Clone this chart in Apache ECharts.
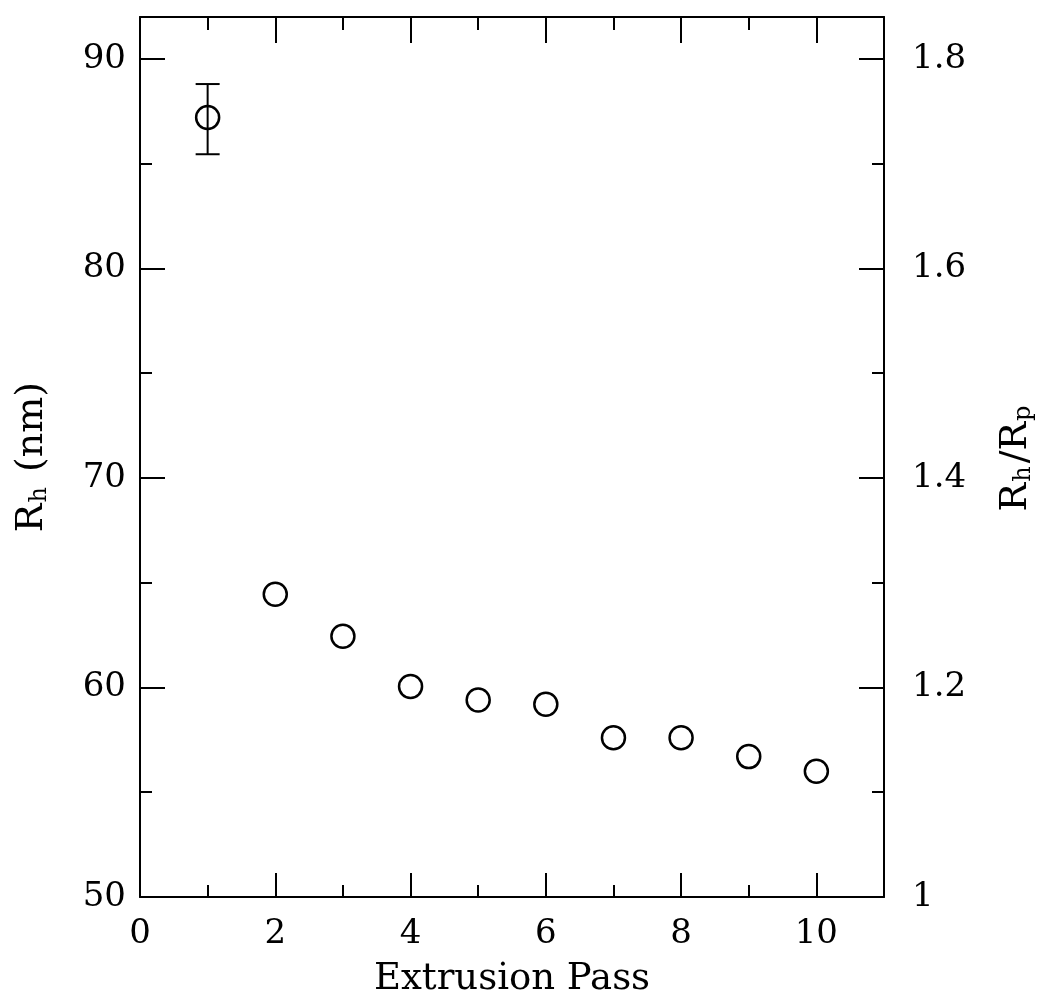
<!DOCTYPE html>
<html>
<head>
<meta charset="utf-8">
<script src="https://cdn.jsdelivr.net/npm/echarts@6/dist/echarts.min.js"></script>
<style>
html,body{margin:0;padding:0;background:#fff;}
#chart{width:1047px;height:1001px;}
</style>
</head>
<body>
<div id="chart"></div>
<script>
// Data
const passes = [1, 2, 3, 4, 5, 6, 7, 8, 9, 10];
const rhValues = [87.2, 64.45, 62.45, 60.05, 59.4, 59.2, 57.6, 57.6, 56.7, 56.0];
const errPass = [1];
const errLow = [85.45];
const errHigh = [88.8];
const xTickLabels = ['0', '2', '4', '6', '8', '10'];
const leftTickLabels = ['50', '60', '70', '80', '90'];
const rightTickLabels = ['1', '1.2', '1.4', '1.6', '1.8'];

const FONT = 'DejaVu Serif';
const chart = echarts.init(document.getElementById('chart'));

const BLACK = '#000';
function tick(len) { return { show: true, inside: true, length: len, lineStyle: { color: BLACK, width: 2 } }; }
function minor(len) { return { show: true, splitNumber: 2, length: len, lineStyle: { color: BLACK, width: 2 } }; }
const lineSt = { show: true, onZero: false, lineStyle: { color: BLACK, width: 2 } };
const subStyle = { fontFamily: FONT, fontSize: 24, color: BLACK, verticalAlign: 'bottom', padding: [16, 3, 0, 1] };

const option = {
  backgroundColor: '#fff',
  animation: false,
  grid: { left: 140, right: 163, top: 17, bottom: 104, containLabel: false, outerBoundsMode: 'none' },
  xAxis: [
    {
      type: 'value', position: 'bottom', min: 0, max: 11, interval: 2,
      axisLine: lineSt, axisTick: tick(24), minorTick: minor(12),
      axisLabel: {
        margin: 20, color: BLACK, fontFamily: FONT, fontSize: 34,
        formatter: v => xTickLabels.includes(String(v)) ? String(v) : ''
      },
      splitLine: { show: false },
      name: 'Extrusion Pass', nameLocation: 'middle', nameGap: 64,
      nameTextStyle: { color: BLACK, fontFamily: FONT, fontSize: 37 }
    },
    {
      type: 'value', position: 'top', min: 0, max: 11, interval: 2,
      axisLine: lineSt, axisTick: tick(26), minorTick: minor(13),
      axisLabel: { show: false }, splitLine: { show: false }
    }
  ],
  yAxis: [
    {
      type: 'value', position: 'left', min: 50, max: 92, interval: 10,
      axisLine: lineSt, axisTick: tick(25), minorTick: minor(12),
      axisLabel: {
        margin: 14, color: BLACK, fontFamily: FONT, fontSize: 34,
        formatter: v => leftTickLabels.includes(String(v)) ? String(v) : ''
      },
      splitLine: { show: false },
      name: 'R{sub|h} (nm)', nameLocation: 'middle', nameGap: 88, nameRotate: 90,
      nameTextStyle: { color: BLACK, fontFamily: FONT, fontSize: 38, rich: { sub: subStyle } }
    },
    {
      type: 'value', position: 'right', min: 1, max: 1.84, interval: 0.2,
      axisLine: lineSt, axisTick: tick(25), minorTick: minor(12),
      axisLabel: {
        margin: 28, color: BLACK, fontFamily: FONT, fontSize: 34,
        formatter: v => {
          const s = String(Math.round(v * 10) / 10);
          return rightTickLabels.includes(s) && Math.abs(v * 5 - Math.round(v * 5)) < 1e-6 ? s : '';
        }
      },
      splitLine: { show: false },
      name: 'R{sub|h}/R{sub|p}', nameLocation: 'middle', nameGap: 112, nameRotate: 90,
      nameTextStyle: { color: BLACK, fontFamily: FONT, fontSize: 38, rich: { sub: subStyle } }
    }
  ],
  series: [
    {
      type: 'custom',
      xAxisIndex: 0, yAxisIndex: 0,
      data: errPass.map((p, i) => [p, errLow[i], errHigh[i]]),
      renderItem: function (params, api) {
        const lo = api.coord([api.value(0), api.value(1)]);
        const hi = api.coord([api.value(0), api.value(2)]);
        const hw = 12;
        const st = { stroke: BLACK, lineWidth: 2, fill: null };
        return {
          type: 'group',
          children: [
            { type: 'line', shape: { x1: lo[0], y1: lo[1], x2: hi[0], y2: hi[1] }, style: st },
            { type: 'line', shape: { x1: lo[0] - hw, y1: lo[1], x2: lo[0] + hw, y2: lo[1] }, style: st },
            { type: 'line', shape: { x1: hi[0] - hw, y1: hi[1], x2: hi[0] + hw, y2: hi[1] }, style: st }
          ]
        };
      },
      z: 2
    },
    {
      type: 'scatter',
      xAxisIndex: 0, yAxisIndex: 0,
      data: passes.map((p, i) => [p, rhValues[i]]),
      symbol: 'circle', symbolSize: 23,
      itemStyle: { color: 'rgba(255,255,255,0)', borderColor: BLACK, borderWidth: 2.5, opacity: 1 },
      z: 3
    }
  ]
};
chart.setOption(option);
</script>
</body>
</html>
